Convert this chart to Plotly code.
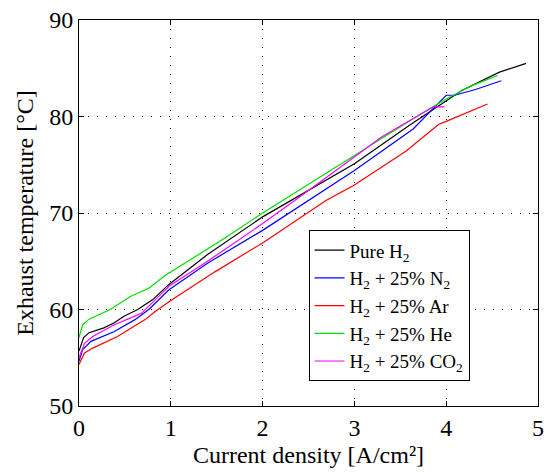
import plotly.graph_objects as go

# Exhaust temperature vs. current density for different anode gas mixtures
x_pure = [0.0, 0.05, 0.11, 0.27, 0.38, 0.49, 0.64, 0.80, 0.98, 1.40, 2.00, 3.00, 3.60, 3.90, 4.00, 4.17, 4.58, 4.87]
y_pure = [55.7, 57.1, 57.6, 58.1, 58.6, 59.3, 60.0, 61.0, 62.6, 65.7, 69.6, 75.1, 79.1, 81.0, 81.7, 82.7, 84.6, 85.5]

x_n2 = [0.0, 0.04, 0.13, 0.38, 0.61, 0.76, 0.98, 1.40, 2.00, 3.00, 3.64, 4.00, 4.09, 4.32, 4.60]
y_n2 = [54.65, 55.85, 56.7, 57.7, 58.95, 60.0, 62.05, 64.8, 68.2, 74.4, 78.7, 82.2, 82.2, 82.8, 83.7]

x_ar = [0.0, 0.06, 0.15, 0.42, 0.72, 0.83, 0.98, 1.48, 2.00, 2.69, 3.00, 3.56, 3.92, 4.00, 4.45]
y_ar = [54.3, 55.5, 56.0, 57.2, 58.95, 59.8, 60.8, 63.9, 66.9, 71.3, 72.9, 76.4, 79.2, 79.5, 81.3]

x_he = [0.0, 0.04, 0.11, 0.34, 0.57, 0.76, 0.95, 1.59, 2.00, 3.00, 3.67, 3.98, 4.28, 4.56]
y_he = [57.1, 58.4, 59.0, 60.0, 61.4, 62.2, 63.6, 67.4, 70.0, 76.0, 79.95, 81.7, 83.2, 84.25]

x_co2 = [0.0, 0.06, 0.15, 0.38, 0.53, 0.68, 0.83, 0.98, 1.40, 2.00, 2.35, 3.00, 3.30, 3.67, 3.86, 3.98]
y_co2 = [55.0, 56.5, 57.2, 58.4, 59.0, 59.6, 61.0, 62.4, 65.0, 68.9, 71.3, 75.8, 77.9, 79.95, 81.0, 81.0]

series = [
    ("Pure H<sub>2</sub>", x_pure, y_pure, "#000000"),
    ("H<sub>2</sub> + 25% N<sub>2</sub>", x_n2, y_n2, "#0000ff"),
    ("H<sub>2</sub> + 25% Ar", x_ar, y_ar, "#ff0000"),
    ("H<sub>2</sub> + 25% He", x_he, y_he, "#00dd00"),
    ("H<sub>2</sub> + 25% CO<sub>2</sub>", x_co2, y_co2, "#ff00ff"),
]

fig = go.Figure()
for name, xs, ys, color in series:
    fig.add_trace(go.Scatter(x=xs, y=ys, mode="lines", name=name,
                             line=dict(color=color, width=1.2)))

axis_common = dict(
    showline=True, linecolor="black", linewidth=1, mirror="ticks",
    ticks="inside", ticklen=5, tickcolor="black",
    showgrid=True, gridcolor="black", gridwidth=1, griddash="1px,8px",
    zeroline=False, automargin=False,
    tickfont=dict(family="Liberation Serif", size=24, color="black"),
)

fig.update_layout(
    width=544, height=472,
    margin=dict(l=79, r=6, t=20, b=66),
    plot_bgcolor="white", paper_bgcolor="white",
    font=dict(family="Liberation Serif", color="black"),
    xaxis=dict(range=[0, 5], dtick=1,
               title=dict(text="Current density [A/cm²]", font=dict(size=24), standoff=6),
               **axis_common),
    yaxis=dict(range=[50, 90], dtick=10,
               title=dict(text="Exhaust temperature [°C]", font=dict(size=24), standoff=8),
               **axis_common),
    legend=dict(x=0.5, y=0.455, xanchor="left", yanchor="top",
                bgcolor="white", bordercolor="black", borderwidth=1,
                font=dict(family="Liberation Serif", size=19, color="black"),
                tracegroupgap=0, itemwidth=30),
    showlegend=True,
)

fig.write_html("out.html")
